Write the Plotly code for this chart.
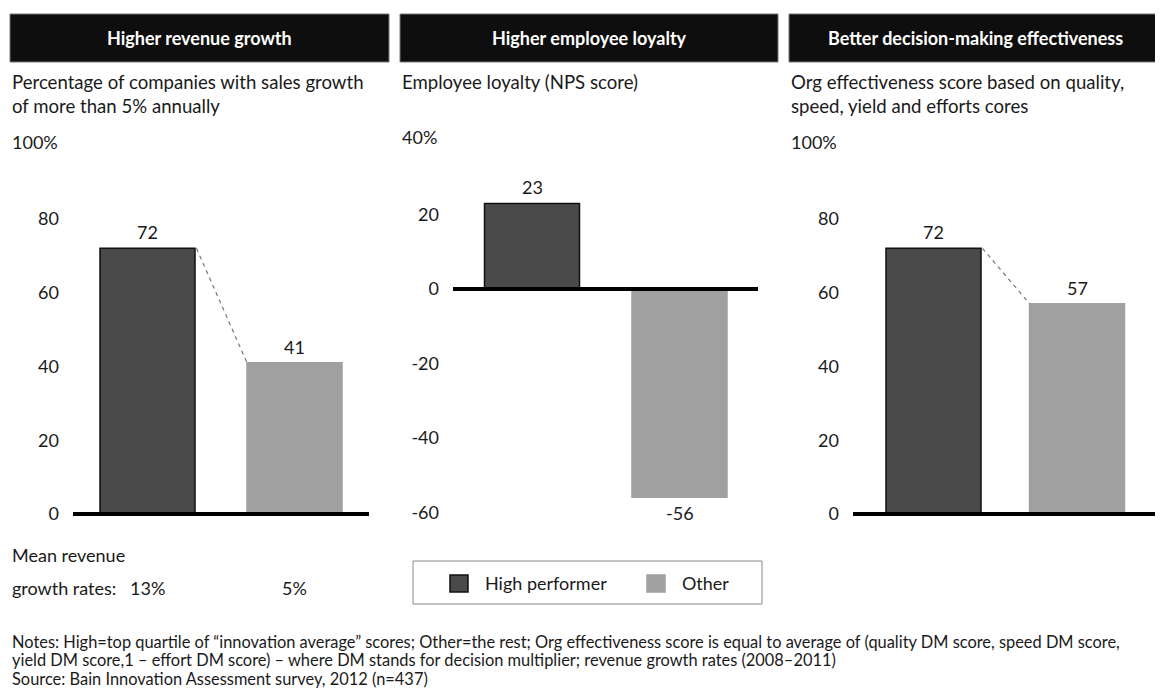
import plotly.graph_objects as go

# page body has an 8px margin: the figure is drawn at (8, 8) in the window
OFF = 8
W, H = 1163 - OFF, 689 - OFF

# ---------------- data ----------------
series_names = ["High performer", "Other"]
panel_titles = ["Higher revenue growth", "Higher employee loyalty", "Better decision-making effectiveness"]
panel_subtitles = [
    ["Percentage of companies with sales growth", "of more than 5% annually"],
    ["Employee loyalty (NPS score)"],
    ["Org effectiveness score based on quality,", "speed, yield and efforts cores"],
]
revenue_growth = [72, 41]
employee_loyalty = [23, -56]
decision_effectiveness = [72, 57]
panel_values = [revenue_growth, employee_loyalty, decision_effectiveness]

ticks_revenue = [0, 20, 40, 60, 80]
ticks_loyalty = [-60, -40, -20, 0, 20]
ticks_decision = [0, 20, 40, 60, 80]
panel_ticks = [ticks_revenue, ticks_loyalty, ticks_decision]
top_tick_values = [100, 40, 100]
top_tick_labels = ["100%", "40%", "100%"]
show_connector = [True, False, True]

mean_growth_label = ["Mean revenue", "growth rates:"]
mean_growth_rates = [13, 5]

notes = [
    "Notes: High=top quartile of \u201cinnovation average\u201d scores; Other=the rest; Org effectiveness score is equal to average of (quality DM score, speed DM score,",
    "yield DM score,1 \u2013 effort DM score) \u2013 where DM stands for decision multiplier; revenue growth rates (2008\u20132011)",
    "Source: Bain Innovation Assessment survey, 2012 (n=437)",
]

# ---------------- style ----------------
FONT = "Lato"
TXT = "#1a1a1a"
bar_colors = ["#4a4a4a", "#a0a0a0"]
bar_lines = ["#111111", "#a0a0a0"]

def px(x):
    return (x - OFF) / W

def py(y):
    return 1 - (y - OFF) / H

# axis pixel geometry (x: axis-line start/end, bar spacing) ; y: zero pixel
x_geom = [(73, 369, 147.0), (453, 758, 147.5), (853, 1158, 143.5)]
first_center = [147.5, 532.0, 933.5]
zero_px = [514.0, 289.0, 514.0]
scale = [3.69, 3.72, 3.69]
Y_TOP, Y_BOT = 130, 530
bar_width_px = 95
text_left = [10, 400, 789]
header_box = [(10, 389), (400, 778), (789, 1161)]

fig = go.Figure()
layout = dict(
    width=W, height=H,
    margin=dict(l=0, r=0, t=0, b=0),
    paper_bgcolor="white", plot_bgcolor="white",
    showlegend=False,
    font=dict(family=FONT, size=18, color=TXT),
)
shapes = []
annotations = []

for i in range(3):
    sfx = "" if i == 0 else str(i + 1)
    xa, ya = "x" + sfx, "y" + sfx
    x0p, x1p, spacing = x_geom[i]
    r0 = -(first_center[i] - x0p) / spacing
    r1 = r0 + (x1p - x0p) / spacing
    y_lo = (zero_px[i] - Y_BOT) / scale[i]
    y_hi = (zero_px[i] - Y_TOP) / scale[i]
    bw = bar_width_px / spacing
    vals = panel_values[i]

    fig.add_trace(go.Bar(
        x=[0, 1], y=vals, width=bw,
        marker=dict(color=bar_colors, line=dict(color=bar_lines, width=1.5)),
        xaxis=xa, yaxis=ya, hoverinfo="skip",
    ))
    if show_connector[i]:
        fig.add_trace(go.Scatter(
            x=[0 + bw / 2 + 0.01, 1 - bw / 2], y=vals, mode="lines",
            line=dict(color="#777777", width=1.2, dash="4px,4px"),
            xaxis=xa, yaxis=ya, hoverinfo="skip",
        ))

    layout["xaxis" + sfx] = dict(
        domain=[px(x0p), px(x1p)], range=[r0, r1], anchor=ya,
        showticklabels=False, showgrid=False, zeroline=False, showline=False, fixedrange=True,
    )
    layout["yaxis" + sfx] = dict(
        domain=[py(Y_BOT), py(Y_TOP)], range=[y_lo, y_hi], anchor=xa,
        tickvals=panel_ticks[i], ticktext=[str(t) for t in panel_ticks[i]],
        showgrid=False, zeroline=False, showline=False, ticks="",
        ticklabelstandoff=13, tickfont=dict(size=18, color=TXT, family=FONT),
        fixedrange=True,
    )

    # baseline at zero
    shapes.append(dict(type="line", xref=xa + " domain", yref=ya, x0=0, x1=1, y0=0, y1=0,
                       line=dict(color="black", width=4), layer="above"))

    # value labels
    for j, v in enumerate(vals):
        annotations.append(dict(
            x=j, y=v, xref=xa, yref=ya, text=str(v), showarrow=False,
            yanchor="bottom" if v >= 0 else "top", yshift=3 if v >= 0 else -3,
            font=dict(size=18, color=TXT, family=FONT),
        ))

    # top axis label
    annotations.append(dict(
        x=px(text_left[i]), y=top_tick_values[i], xref="paper", yref=ya,
        text=top_tick_labels[i], showarrow=False, xanchor="left", yanchor="middle",
        yshift=3, font=dict(size=18, color=TXT, family=FONT),
    ))

    # header box + title
    hx0, hx1 = header_box[i]
    shapes.append(dict(type="rect", xref="paper", yref="paper",
                       x0=px(hx0), x1=px(hx1), y0=py(62), y1=py(14),
                       fillcolor="#0e0e0e", line=dict(color="#777777", width=1)))
    annotations.append(dict(
        x=px((hx0 + hx1) / 2), y=py(38), xref="paper", yref="paper",
        text="<b>" + panel_titles[i] + "</b>", showarrow=False,
        xanchor="center", yanchor="middle",
        font=dict(size=18, color="white", family=FONT),
    ))

    # subtitle lines
    for k, line in enumerate(panel_subtitles[i]):
        annotations.append(dict(
            x=px(text_left[i]), y=py(82 + 24 * k), xref="paper", yref="paper",
            text=line, showarrow=False, xanchor="left", yanchor="middle",
            font=dict(size=18.6, color=TXT, family=FONT),
        ))

# mean revenue growth rates under panel 1
annotations.append(dict(x=px(10), y=py(555), xref="paper", yref="paper", text=mean_growth_label[0],
                        showarrow=False, xanchor="left", yanchor="middle",
                        font=dict(size=18, color=TXT, family=FONT)))
annotations.append(dict(x=px(10), y=py(588), xref="paper", yref="paper", text=mean_growth_label[1],
                        showarrow=False, xanchor="left", yanchor="middle",
                        font=dict(size=18, color=TXT, family=FONT)))
for j, g in enumerate(mean_growth_rates):
    annotations.append(dict(x=j, y=py(588), xref="x", yref="paper", text=f"{g}%",
                            showarrow=False, xanchor="center", yanchor="middle",
                            font=dict(size=18, color=TXT, family=FONT)))

# legend (drawn)
shapes.append(dict(type="rect", xref="paper", yref="paper", x0=px(413), x1=px(762), y0=py(604), y1=py(561),
                   fillcolor="white", line=dict(color="#888888", width=1)))
legend_sq = [(450, 468), (647, 665)]
legend_txt = [483, 680]
for j in range(2):
    a, b = legend_sq[j]
    shapes.append(dict(type="rect", xref="paper", yref="paper", x0=px(a), x1=px(b), y0=py(592), y1=py(575),
                       fillcolor=bar_colors[j], line=dict(color=bar_lines[j], width=1.5)))
    annotations.append(dict(x=px(legend_txt[j]), y=py(583), xref="paper", yref="paper",
                            text=series_names[j], showarrow=False, xanchor="left", yanchor="middle",
                            font=dict(size=18, color=TXT, family=FONT)))

# notes
for k, line in enumerate(notes):
    annotations.append(dict(x=px(10), y=py(641 + 18.5 * k), xref="paper", yref="paper",
                            text=line, showarrow=False, xanchor="left", yanchor="middle",
                            font=dict(size=16.4, color=TXT, family=FONT)))

layout["shapes"] = shapes
layout["annotations"] = annotations
fig.update_layout(**layout)
fig.write_html("out.html")
